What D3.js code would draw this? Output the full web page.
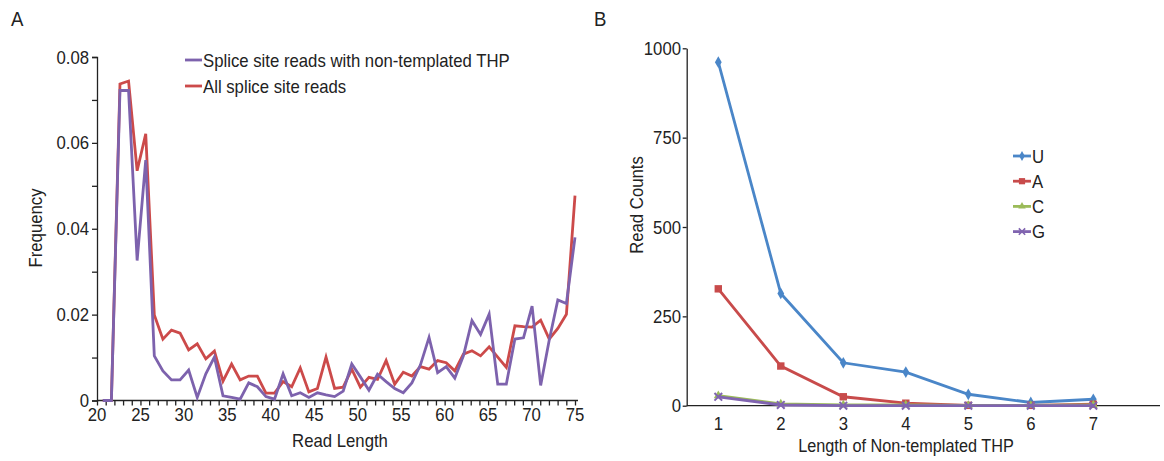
<!DOCTYPE html>
<html lang="en">
<head>
<meta charset="UTF-8">
<title>Read length / THP</title>
<script src="https://d3js.org/d3.v7.min.js"></script>
<style>
  body { margin: 0; background: #fff; }
  svg text { font-family: "Liberation Sans", Arial, sans-serif; fill: #222; }
</style>
</head>
<body>
<script>
// ---- panel A data ----
var readLengths = d3.range(20, 76);
var thpFreq = [0, 0, 0.0722, 0.0722, 0.0326, 0.056, 0.0104, 0.0069, 0.0048, 0.0048,
  0.0071, 0.0007, 0.0062, 0.0101, 0.0011, 0.0007, 0.0003, 0.0041, 0.0032, 0.0009,
  0.0003, 0.0062, 0.0011, 0.0018, 0.0007, 0.0018, 0.0013, 0.0009, 0.0022, 0.0085,
  0.0055, 0.0024, 0.0061, 0.0044, 0.0028, 0.0018, 0.0041, 0.0083, 0.0147, 0.0065,
  0.0079, 0.0052, 0.0104, 0.0186, 0.0154, 0.0201, 0.0038, 0.0038, 0.0143, 0.0146,
  0.0220, 0.0035, 0.0141, 0.0234, 0.0226, 0.0380];
var allFreq = [0, 0, 0.0737, 0.0744, 0.0535, 0.0621, 0.0199, 0.0143, 0.0164, 0.0157,
  0.0118, 0.0132, 0.0097, 0.0115, 0.0045, 0.0085, 0.0048, 0.0057, 0.0057, 0.0017,
  0.0017, 0.0044, 0.0032, 0.0076, 0.0020, 0.0028, 0.0101, 0.0028, 0.0031, 0.0073,
  0.0031, 0.0054, 0.0049, 0.0093, 0.0038, 0.0066, 0.0057, 0.0079, 0.0073, 0.0093,
  0.0088, 0.0069, 0.0108, 0.0116, 0.0104, 0.0125, 0.0101, 0.0077, 0.0174, 0.0172,
  0.0171, 0.0187, 0.0143, 0.0168, 0.0201, 0.0477];
var freqTicks = [0, 0.02, 0.04, 0.06, 0.08];
var lengthTicks = [20, 25, 30, 35, 40, 45, 50, 55, 60, 65, 70, 75];

// ---- panel B data ----
var thpLengths = [1, 2, 3, 4, 5, 6, 7];
var countsU = [961, 314, 120, 94, 32, 9, 18];
var countsA = [327, 111, 25, 7, 1, 1, 4];
var countsC = [28, 5, 2, 2, 1, 1, 2];
var countsG = [25, 2, 0, 0, 0, 0, 0];
var countTicks = [0, 250, 500, 750, 1000];

var W = 1164, H = 461;
var svg = d3.select("body").append("svg").attr("width", W).attr("height", H);

// text in the figure is a bit tall and narrow, so squeeze it sideways
function label(g, txt, x, y, size, anchor, rot) {
  return g.append("text").text(txt)
    .attr("font-size", size)
    .attr("text-anchor", anchor || "start")
    .attr("transform", "translate(" + x + "," + y + ")" + (rot ? " rotate(" + rot + ")" : "") + " scale(0.93,1)");
}

// ================= Panel A =================
var gA = svg.append("g");
var xA = d3.scaleLinear().domain([20, 75]).range([102.8, 575]);   // data positions
var xAxisA = d3.scaleLinear().domain([20, 75]).range([97, 575]);  // axis / labels
var yA = d3.scaleLinear().domain([0, 0.08]).range([400.5, 57]);

label(gA, "A", 11, 26, 20);

// y axis
gA.append("g").attr("transform", "translate(97,0)")
  .call(d3.axisLeft(yA).tickValues(d3.range(0, 0.0801, 0.01)).tickSize(5).tickFormat(""))
  .call(function (g) { g.selectAll("line, path").attr("stroke", "#222").attr("stroke-width", 1.3); });
freqTicks.forEach(function (v) {
  label(gA, v === 0 ? "0" : d3.format(".2f")(v), 89, yA(v) + 6.5, 18, "end");
});

// x axis
gA.append("g").attr("transform", "translate(0,400.5)")
  .call(d3.axisBottom(xAxisA).tickValues(readLengths).tickSize(5).tickSizeOuter(0).tickFormat(""))
  .call(function (g) {
    g.selectAll("line, path").attr("stroke", "#222").attr("stroke-width", 1.3);
    g.select("path").attr("d", "M97,0H578");
  });
lengthTicks.forEach(function (v) {
  label(gA, v, xAxisA(v), 421, 18, "middle");
});

label(gA, "Read Length", 340, 447, 18, "middle");
label(gA, "Frequency", 42, 228, 18, "middle", -90);

var lineA = function (vals) {
  return d3.line().x(function (d, i) { return xA(readLengths[i]); })
    .y(function (d) { return yA(d); })(vals);
};
gA.append("path").attr("d", lineA(allFreq)).attr("fill", "none")
  .attr("stroke", "#cc4a4a").attr("stroke-width", 2.8).attr("stroke-linejoin", "miter");
gA.append("path").attr("d", lineA(thpFreq)).attr("fill", "none")
  .attr("stroke", "#7d62ad").attr("stroke-width", 2.8).attr("stroke-linejoin", "miter");

// legend A
var legA = [["Splice site reads with non-templated THP", "#7d62ad", 60],
            ["All splice site reads", "#cc4a4a", 86]];
legA.forEach(function (d) {
  gA.append("line").attr("x1", 185).attr("x2", 202).attr("y1", d[2]).attr("y2", d[2])
    .attr("stroke", d[1]).attr("stroke-width", 2.8);
  label(gA, d[0], 203, d[2] + 6.5, 18);
});

// ================= Panel B =================
var gB = svg.append("g");
var xB = d3.scalePoint().domain(thpLengths).range([718.3, 1093.3]);
var yB = d3.scaleLinear().domain([0, 1000]).range([405.7, 48.3]);

label(gB, "B", 594, 26, 20);

gB.append("g").attr("transform", "translate(686.7,0)")
  .call(d3.axisLeft(yB).tickValues(countTicks).tickSize(4).tickSizeOuter(0).tickFormat(""))
  .call(function (g) { g.selectAll("line, path").attr("stroke", "#222").attr("stroke-width", 1.3); });
countTicks.forEach(function (v) {
  label(gB, v, 681, yB(v) + 6.5, 18, "end");
});

gB.append("g").attr("transform", "translate(0,405.7)")
  .call(d3.axisBottom(xB).tickSize(0).tickFormat(""))
  .call(function (g) {
    g.select("path").attr("d", "M686.7,0H1160").attr("stroke", "#222").attr("stroke-width", 1.3);
  });
thpLengths.forEach(function (v) {
  label(gB, v, xB(v), 430, 18, "middle");
});

label(gB, "Length of Non-templated THP", 906, 452, 17.5, "middle");
label(gB, "Read Counts", 643, 205, 18, "middle", -90);

var seriesB = [
  { name: "U", vals: countsU, color: "#4a86c8", sym: d3.symbolDiamond, size: 40, fill: true },
  { name: "A", vals: countsA, color: "#c84b4b", sym: d3.symbolSquare, size: 55, fill: true },
  { name: "C", vals: countsC, color: "#9bbb59", sym: d3.symbolTriangle, size: 35, fill: true },
  { name: "G", vals: countsG, color: "#8064b0", sym: d3.symbolTimes, size: 40, fill: false }
];

var lineB = d3.line().x(function (d, i) { return xB(thpLengths[i]); })
  .y(function (d) { return yB(d); });

seriesB.forEach(function (s) {
  gB.append("path").attr("d", lineB(s.vals)).attr("fill", "none")
    .attr("stroke", s.color).attr("stroke-width", 2.8);
  var sym = d3.symbol().type(s.sym).size(s.size);
  gB.selectAll(null).data(s.vals).enter().append("path")
    .attr("d", sym)
    .attr("transform", function (d, i) { return "translate(" + xB(thpLengths[i]) + "," + yB(d) + ")"; })
    .attr("fill", s.fill ? s.color : "none")
    .attr("stroke", s.color).attr("stroke-width", s.fill ? 0 : 2);
});

// legend B
seriesB.forEach(function (s, i) {
  var ly = 156 + i * 25.2;
  gB.append("line").attr("x1", 1013).attr("x2", 1031).attr("y1", ly).attr("y2", ly)
    .attr("stroke", s.color).attr("stroke-width", 2.8);
  gB.append("path").attr("d", d3.symbol().type(s.sym).size(s.size * 0.7)())
    .attr("transform", "translate(1022," + ly + ")")
    .attr("fill", s.fill ? s.color : "none")
    .attr("stroke", s.color).attr("stroke-width", s.fill ? 0 : 1.6);
  label(gB, s.name, 1032, ly + 6.5, 18);
});
</script>
</body>
</html>
